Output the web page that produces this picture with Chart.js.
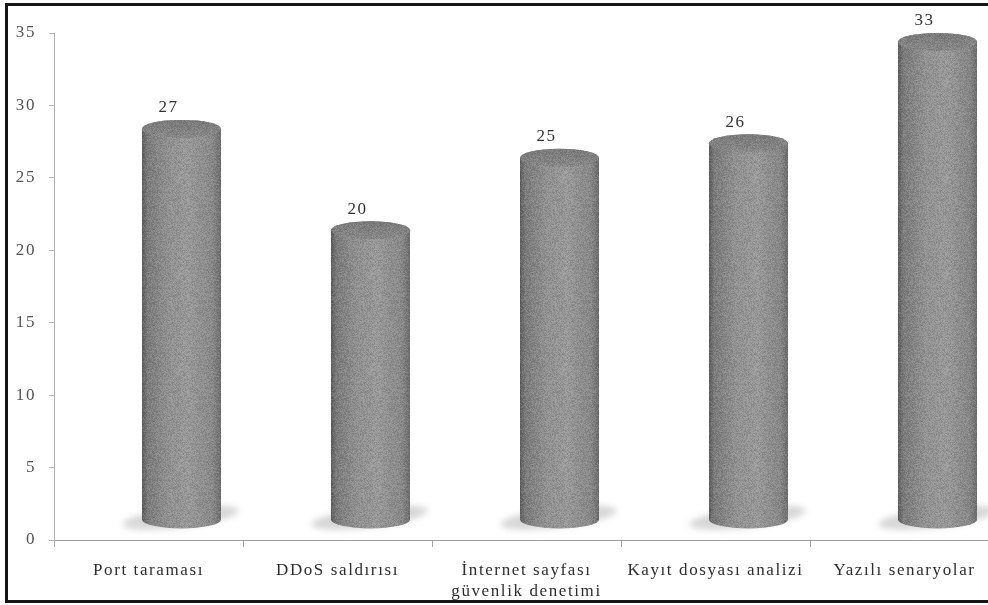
<!DOCTYPE html>
<html>
<head>
<meta charset="utf-8">
<script src="https://cdn.jsdelivr.net/npm/chart.js@4/dist/chart.umd.min.js"></script>
<style>
  html, body { margin: 0; padding: 0; background: #fff; width: 988px; height: 605px; overflow: hidden; }
  #wrap { position: relative; width: 988px; height: 605px; overflow: hidden; }
  #c { position: absolute; left: 0; top: 0; }
  #frame { position: absolute; left: 5px; top: 3px; width: 1010px; height: 600px; border: 3px solid #161616; box-sizing: border-box; pointer-events: none; }
</style>
</head>
<body>
<div id="wrap">
  <canvas id="c" width="1000" height="605"></canvas>
  <div id="frame"></div>
</div>
<script>
// Categories (multi-line labels are arrays of lines)
const categories = [
  ['Port taraması'],
  ['DDoS saldırısı'],
  ['İnternet sayfası', 'güvenlik denetimi'],
  ['Kayıt dosyası analizi'],
  ['Yazılı senaryolar']
];
// Number of responses per category
const counts = [27, 20, 25, 26, 33];
// Value axis ticks
const yTickValues = [0, 5, 10, 15, 20, 25, 30, 35];

// 3D look of the cylinders: depth offset and cap ellipse height
const DEPTH_X = 33;
const DEPTH_Y = -20;
const CAP_RY = 9;
const SERIF = '"Liberation Serif", "Times New Roman", serif';
const SPACING = '1.6px';

// Deterministic fine grain used as the stone-like texture of the cylinders
function makeGrain(ctx) {
  const size = 96;
  const c = document.createElement('canvas');
  c.width = c.height = size;
  const g = c.getContext('2d');
  const img = g.createImageData(size, size);
  for (let j = 0; j < size; j++) {
    for (let i = 0; i < size; i++) {
      const h = Math.sin(i * 12.9898 + j * 78.233) * 43758.5453;
      const n = h - Math.floor(h);
      const k = (j * size + i) * 4;
      const v = n < 0.5 ? 50 : 220;
      img.data[k] = img.data[k + 1] = img.data[k + 2] = v;
      img.data[k + 3] = Math.round(Math.abs(n - 0.5) * 2 * 45);
    }
  }
  g.putImageData(img, 0, 0);
  return ctx.createPattern(c, 'repeat');
}

const textSpacing = {
  id: 'textSpacing',
  beforeDraw(chart) { chart.ctx.letterSpacing = SPACING; }
};

const cylinders = {
  id: 'cylinders',
  afterDatasetsDraw(chart) {
    const ctx = chart.ctx;
    const ds = chart.data.datasets[0];
    const meta = chart.getDatasetMeta(0);
    const grain = makeGrain(ctx);
    meta.data.forEach((bar, i) => {
      const p = bar.getProps(['x', 'y', 'base', 'width'], true);
      const cx = p.x + DEPTH_X;
      const rx = p.width / 2;
      const top = p.y + DEPTH_Y;
      const bottom = p.base + DEPTH_Y;

      // soft floor shadow, slightly tilted
      ctx.save();
      ctx.filter = 'blur(3px)';
      ctx.fillStyle = 'rgba(150,150,150,0.38)';
      ctx.beginPath();
      ctx.ellipse(cx - 1, bottom - 2, rx + 19, CAP_RY + 1, -0.12, 0, Math.PI * 2);
      ctx.fill();
      ctx.restore();

      // body
      ctx.save();
      ctx.beginPath();
      ctx.moveTo(cx - rx, top);
      ctx.lineTo(cx - rx, bottom);
      ctx.ellipse(cx, bottom, rx, CAP_RY, 0, Math.PI, 0, true);
      ctx.lineTo(cx + rx, top);
      ctx.ellipse(cx, top, rx, CAP_RY, 0, 0, Math.PI, true);
      ctx.closePath();
      const g = ctx.createLinearGradient(cx - rx, 0, cx + rx, 0);
      g.addColorStop(0, '#595959');
      g.addColorStop(0.07, '#7a7a7a');
      g.addColorStop(0.35, '#929292');
      g.addColorStop(0.6, '#999999');
      g.addColorStop(0.9, '#878787');
      g.addColorStop(1, '#6a6a6a');
      ctx.fillStyle = g;
      ctx.fill();
      ctx.clip();
      ctx.fillStyle = grain;
      ctx.fillRect(cx - rx, top - CAP_RY, 2 * rx, bottom - top + 2 * CAP_RY);
      ctx.restore();

      // top cap
      ctx.save();
      ctx.beginPath();
      ctx.ellipse(cx, top, rx, CAP_RY, 0, 0, Math.PI * 2);
      const tg = ctx.createLinearGradient(0, top - CAP_RY, 0, top + CAP_RY);
      tg.addColorStop(0, '#787878');
      tg.addColorStop(1, '#888888');
      ctx.fillStyle = tg;
      ctx.fill();
      ctx.clip();
      ctx.fillStyle = grain;
      ctx.fillRect(cx - rx, top - CAP_RY, 2 * rx, 2 * CAP_RY);
      ctx.restore();

      // value label
      ctx.save();
      ctx.font = '17px ' + SERIF;
      ctx.letterSpacing = SPACING;
      ctx.fillStyle = '#333333';
      ctx.textAlign = 'center';
      ctx.textBaseline = 'middle';
      ctx.fillText(String(ds.data[i]), cx - 13, top - 21);
      ctx.restore();
    });
  }
};

new Chart(document.getElementById('c'), {
  type: 'bar',
  data: {
    labels: categories,
    datasets: [{
      data: counts,
      backgroundColor: 'rgba(0,0,0,0)',
      borderWidth: 0,
      barPercentage: 0.418,
      categoryPercentage: 1
    }]
  },
  options: {
    responsive: false,
    animation: false,
    devicePixelRatio: 1,
    layout: { padding: { top: 33, right: 1, left: 0, bottom: 0 } },
    plugins: { legend: { display: false }, tooltip: { enabled: false } },
    scales: {
      x: {
        afterFit(scale) { scale.height = 65; },
        grid: { offset: true, drawOnChartArea: false, tickLength: 7, color: '#a8a8a8' },
        border: { color: '#a0a0a0', width: 1 },
        ticks: {
          autoSkip: false, maxRotation: 0, padding: 13,
          color: '#2e2e2e',
          font: { family: SERIF, size: 17, lineHeight: 1.25 }
        }
      },
      y: {
        min: 0, max: 35,
        afterFit(scale) { scale.width = 54; },
        afterBuildTicks(scale) { scale.ticks = yTickValues.map(v => ({ value: v })); },
        grid: { drawOnChartArea: false, tickLength: 5, color: '#b8b8b8' },
        border: { color: '#b0b0b0', width: 1 },
        ticks: {
          padding: 13,
          color: '#555555',
          font: { family: SERIF, size: 17 }
        }
      }
    }
  },
  plugins: [textSpacing, cylinders]
});
</script>
</body>
</html>
